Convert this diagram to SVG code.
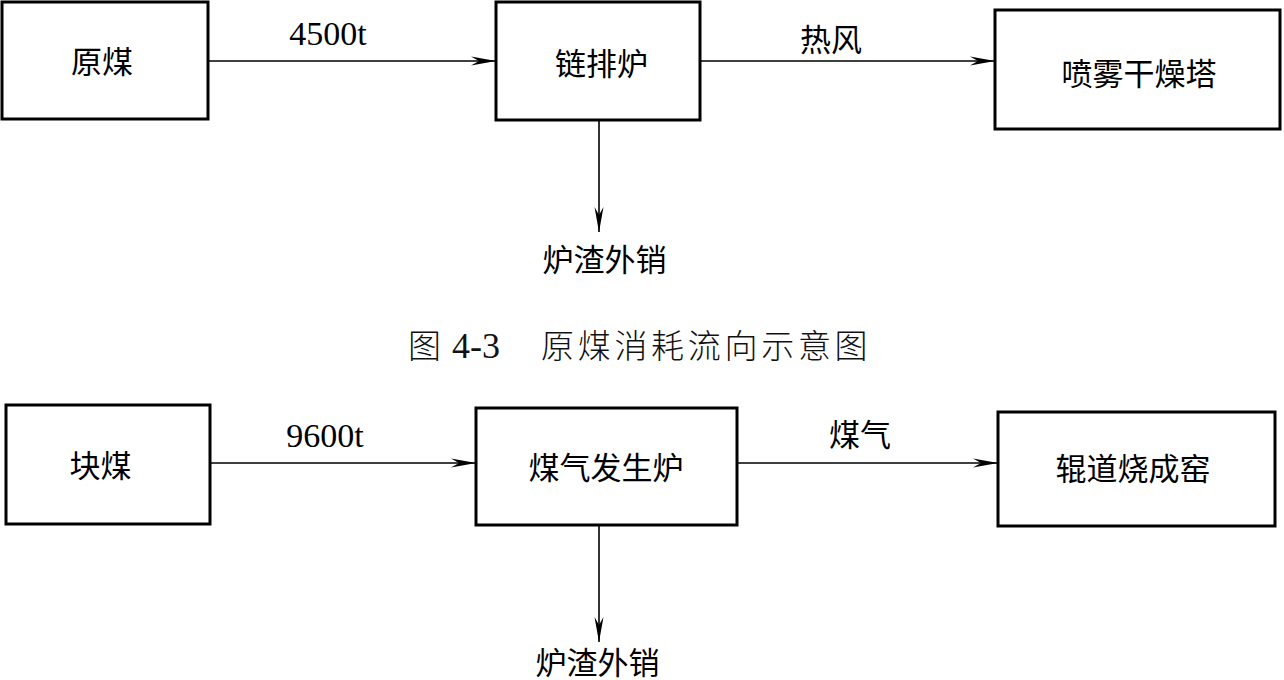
<svg xmlns="http://www.w3.org/2000/svg" width="1284" height="680" viewBox="0 0 1284 680">
<style>
.box{fill:#fff;stroke:#000;stroke-width:3}
.lbl{font-family:"Noto Sans CJK SC","Noto Sans",sans-serif;font-size:31px;fill:#000;text-anchor:middle;dominant-baseline:central}
.num{font-family:"Liberation Serif",serif;font-size:34px;fill:#000;text-anchor:middle}
.cap{font-family:"Noto Sans CJK SC",sans-serif;font-size:33px;fill:#111;font-weight:300}
.capn{font-family:"Liberation Serif",serif;font-size:36px}
.conn{stroke:#000;stroke-width:1.6;fill:none;marker-end:url(#arr)}
</style>
<defs>
<marker id="arr" markerUnits="userSpaceOnUse" viewBox="-26 -6 27 12" refX="0" refY="0" markerWidth="27" markerHeight="12" orient="auto">
<path d="M0,0 L-25,-4.5 L-17,0 L-25,4.5 Z" fill="#000"/>
</marker>
</defs>
<rect width="1284" height="680" fill="#fff"/>
<g id="connectors">
<line class="conn" x1="209" y1="61" x2="496" y2="61"/>
<line class="conn" x1="701" y1="61" x2="995" y2="61"/>
<line class="conn" x1="599" y1="120" x2="599" y2="232"/>
<line class="conn" x1="211" y1="463" x2="476" y2="463"/>
<line class="conn" x1="738" y1="463" x2="998" y2="463"/>
<line class="conn" x1="599" y1="525" x2="599" y2="642"/>
<text class="num" x="328" y="45">4500t</text>
<text class="lbl" x="831" y="37.5">热风</text>
<text class="num" x="325" y="447">9600t</text>
<text class="lbl" x="860" y="432.5">煤气</text>
</g>
<g id="n-yuanmei"><rect class="box" x="2" y="2" width="206" height="117"/><text class="lbl" x="102" y="59.5">原煤</text></g>
<g id="n-lianpailu"><rect class="box" x="496" y="2" width="204" height="118"/><text class="lbl" x="601.5" y="61">链排炉</text></g>
<g id="n-penwu"><rect class="box" x="995" y="10" width="285" height="119"/><text class="lbl" x="1139" y="71">喷雾干燥塔</text></g>
<g id="n-luzha1"><text class="lbl" x="604.5" y="257.5">炉渣外销</text></g>
<g id="caption"><text class="cap" y="358"><tspan x="408">图</tspan><tspan class="capn" x="452">4-3</tspan><tspan x="541" letter-spacing="3.7">原煤消耗流向示意图</tspan></text></g>
<g id="n-kuaimei"><rect class="box" x="6" y="405" width="204" height="119"/><text class="lbl" x="100.5" y="463.5">块煤</text></g>
<g id="n-meiqi"><rect class="box" x="476" y="408" width="261" height="117"/><text class="lbl" x="606" y="465">煤气发生炉</text></g>
<g id="n-gundao"><rect class="box" x="998" y="412" width="277" height="114"/><text class="lbl" x="1133" y="466">辊道烧成窑</text></g>
<g id="n-luzha2"><text class="lbl" x="597.5" y="660">炉渣外销</text></g>
</svg>
